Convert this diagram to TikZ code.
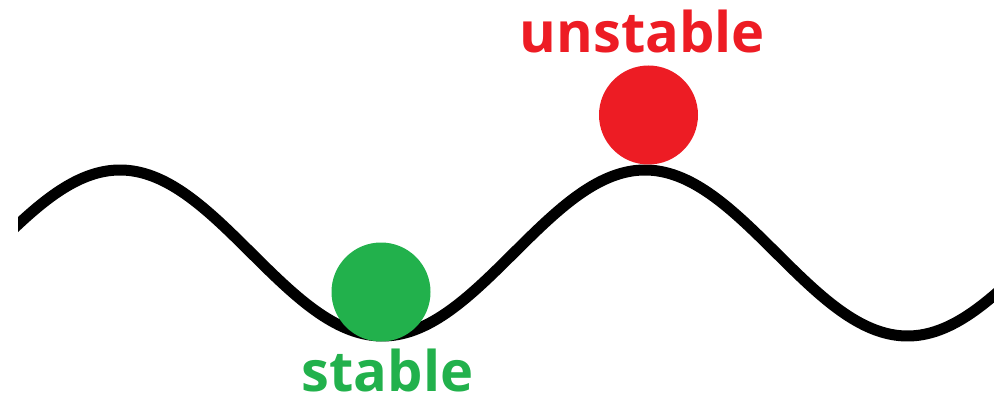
\documentclass[tikz,border=0pt]{standalone}
\usepackage{fontspec}
\setmainfont{Open Sans}
\definecolor{paintgreen}{HTML}{22B14C}
\definecolor{paintred}{HTML}{ED1C24}
\tikzset{
  wave/.style={line width=11pt, black, line join=round},
  ball/.style={circle, inner sep=0pt, minimum size=99pt},
  lbl/.style={font=\fontsize{56}{60}\selectfont\bfseries, inner sep=0pt, text depth=0pt, anchor=base}
}
\begin{document}
\begin{tikzpicture}[x=1pt,y=-1pt]
\useasboundingbox (0,0) rectangle (994,401);
\begin{scope}
\clip (18,0) rectangle (994,401);
\draw[wave] plot[domain=10:1000, samples=200, smooth] (\x, {253-83*cos((\x-120)/525*360)});
\end{scope}
\node[ball, fill=paintgreen] (stableball) at (381,292) {};
\node[ball, fill=paintred] (unstableball) at (648.5,115) {};
\node[lbl, text=paintgreen] (stable) at (387.5,391) {stable};
\node[lbl, text=paintred] (unstable) at (642.5,53) {unstable};
\end{tikzpicture}
\end{document}
